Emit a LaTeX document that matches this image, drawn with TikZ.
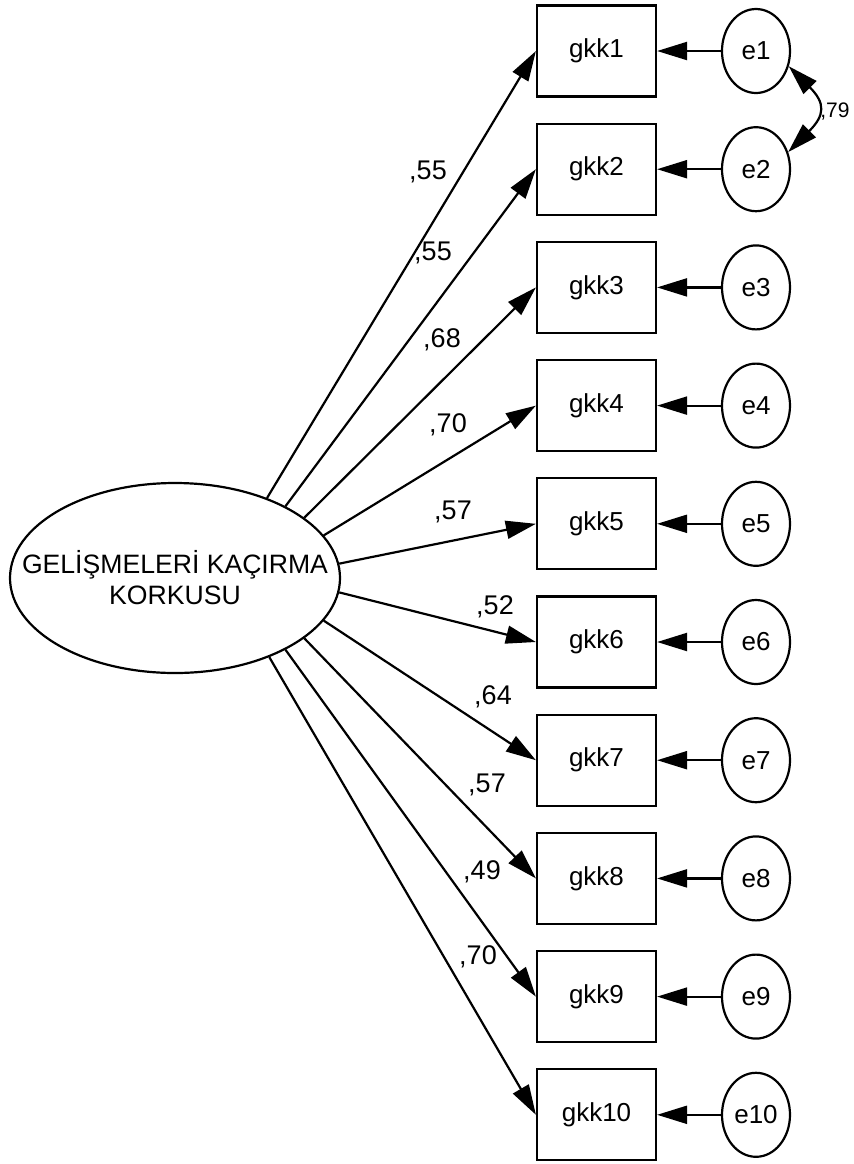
\documentclass[tikz,border=0pt]{standalone}
\usepackage{fontspec}
\setmainfont{Liberation Sans}
\usetikzlibrary{arrows.meta,shapes.geometric}
\begin{document}
\begin{tikzpicture}[x=0.5pt,y=-0.5pt,
  obs/.style={draw,line width=1.1pt,minimum width=59.5pt,minimum height=45.5pt,inner sep=0pt,font=\fontsize{13}{15}\selectfont},
  err/.style={draw,ellipse,line width=1.1pt,minimum width=34pt,minimum height=42pt,inner sep=0pt,font=\fontsize{13}{15}\selectfont},
  lat/.style={draw,ellipse,line width=1.1pt,minimum width=165pt,minimum height=95pt,inner sep=0pt},
  lattxt/.style={align=center,inner sep=0pt,font=\fontsize{13.3}{15.5}\selectfont},
  pth/.style={line width=1.1pt,-{Triangle[length=15pt,width=9pt]}},
  cov/.style={line width=1.1pt,{Triangle[length=15pt,width=9pt]}-{Triangle[length=15pt,width=9pt]}},
  lbl/.style={font=\fontsize{13.5}{15}\selectfont,inner sep=0pt},
]
\useasboundingbox (0,0) rectangle (853,1164);
\node[lat] (main) at (175,578) {};
\node[lattxt] (maintxt) at (175,578) {GELİŞMELERİ KAÇIRMA\\KORKUSU};
\foreach \i/\a in {1/41,2/33.5,3/25,4/16,5/5.3,6/-5.5,7/-16.3,8/-25.1,9/-33.3,10/-40.5}{
  \pgfmathsetmacro\yy{51+(\i-1)*118.2}
  \node[obs] (gkk\i) at (596.5,\yy) {gkk\i};
  \node[err] (e\i) at (756,\yy) {e\i};
  \draw[pth] (e\i.west) -- (gkk\i.east);
  \draw[pth] (main.\a) -- (gkk\i.west);
}
\node[lbl] (l1) at (428,172) {,55};
\node[lbl] (l2) at (433,253) {,55};
\node[lbl] (l3) at (442,340) {,68};
\node[lbl] (l4) at (448,425) {,70};
\node[lbl] (l5) at (453,512) {,57};
\node[lbl] (l6) at (495,607) {,52};
\node[lbl] (l7) at (493,697) {,64};
\node[lbl] (l8) at (487,785) {,57};
\node[lbl] (l9) at (482,872) {,49};
\node[lbl] (l10) at (478,957) {,70};
\draw[cov] (e1.-25) to[out=-45,in=45,distance=26pt] (e2.28);
\node[lbl,font=\fontsize{10.5}{12}\selectfont] (c12) at (835,112) {,79};
\end{tikzpicture}
\end{document}
